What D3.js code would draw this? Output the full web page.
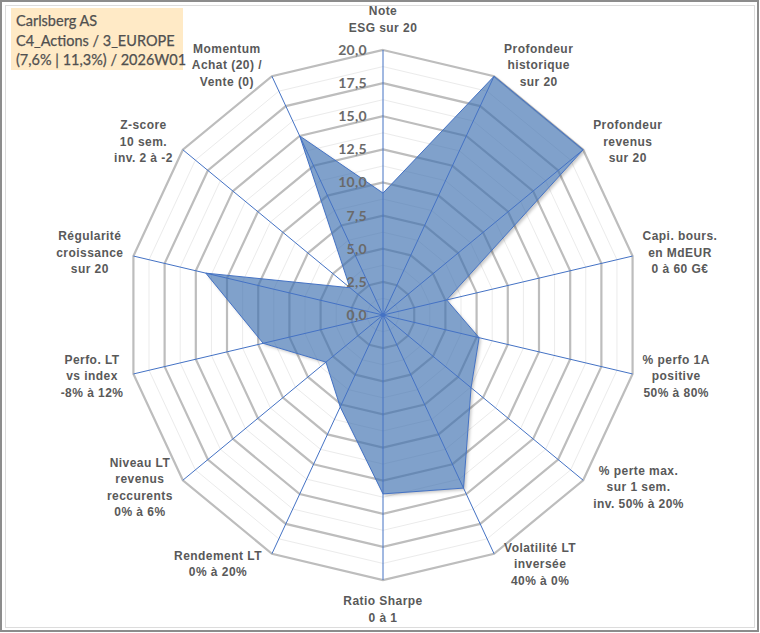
<!DOCTYPE html>
<html>
<head>
<meta charset="utf-8">
<script src="https://cdn.jsdelivr.net/npm/d3@7"></script>
<style>
  html, body { margin: 0; padding: 0; background: #fff; }
  svg { display: block; }
</style>
</head>
<body>
<div id="canvas"></div>
<script>
'use strict';

/* Radar data: one value per axis, on a 0..20 scale. */
const categories = [
  ['Note', 'ESG sur 20'],
  ['Profondeur', 'historique', 'sur 20'],
  ['Profondeur', 'revenus', 'sur 20'],
  ['Capi. bours.', 'en MdEUR', '0 à 60 G€'],
  ['% perfo 1A', 'positive', '50% à 80%'],
  ['% perte max.', 'sur 1 sem.', 'inv. 50% à 20%'],
  ['Volatilité LT', 'inversée', '40% à 0%'],
  ['Ratio Sharpe', '0 à 1'],
  ['Rendement LT', '0% à 20%'],
  ['Niveau LT', 'revenus', 'reccurents', '0% à 6%'],
  ['Perfo. LT', 'vs index', '-8% à 12%'],
  ['Régularité', 'croissance', 'sur 20'],
  ['Z-score', '10 sem.', 'inv. 2 à -2'],
  ['Momentum', 'Achat (20) /', 'Vente (0)'],
];
const values = [9.2, 20, 20, 5.1, 7.7, 8.8, 14.5, 13.5, 7.7, 5.7, 9.6, 14.2, 3.3, 15.0];
const majorTicks = [0, 2.5, 5, 7.5, 10, 12.5, 15, 17.5, 20];
const minorTicks = [1.25, 3.75, 6.25, 8.75, 11.25, 13.75, 16.25, 18.75];
const titleLines = ['Carlsberg AS', 'C4_Actions / 3_EUROPE', '(7,6% | 11,3%) / 2026W01'];

const width = 760;
const height = 633;
const center = {x: 383, y: 315};

const svg = d3.select('#canvas').append('svg')
    .attr('width', width)
    .attr('height', height);

/* The plot area is slightly wider than tall in the source, hence two scales. */
const rx = d3.scaleLinear().domain([0, 20]).range([0, 256]);
const ry = d3.scaleLinear().domain([0, 20]).range([0, 265]);
const angle = d3.scaleLinear().domain([0, categories.length]).range([0, 2 * Math.PI]);

const point = (i, v) => [
  center.x + rx(v) * Math.sin(angle(i)),
  center.y - ry(v) * Math.cos(angle(i)),
];
const ring = (v) => categories.map((c, i) => point(i, v));
const line = d3.line().curve(d3.curveLinearClosed);
const seriesPath = line(values.map((v, i) => point(i, v)));

// frame
svg.append('rect')
    .attr('x', 1).attr('y', 1)
    .attr('width', width - 3).attr('height', height - 3)
    .attr('fill', '#fff')
    .attr('stroke', '#8c8c8c')
    .attr('stroke-width', 2);
svg.append('rect')
    .attr('x', 5.5).attr('y', 5.5)
    .attr('width', width - 11).attr('height', height - 11)
    .attr('fill', 'none')
    .attr('stroke', '#dcdcdc');

/* The shadow must stay outside the translucent fill, so mask the polygon out. */
const defs = svg.append('defs');
defs.append('filter')
    .attr('id', 'blur')
    .attr('x', '-10%').attr('y', '-10%')
    .attr('width', '120%').attr('height', '120%')
    .append('feGaussianBlur')
    .attr('stdDeviation', 1.6);
const mask = defs.append('mask').attr('id', 'outside');
mask.append('rect')
    .attr('width', width).attr('height', height)
    .attr('fill', '#fff');
mask.append('path')
    .attr('d', seriesPath)
    .attr('fill', '#000');

// grid
const grid = svg.append('g').attr('class', 'grid');
grid.selectAll('path.minor')
    .data(minorTicks)
    .join('path')
    .attr('class', 'minor')
    .attr('d', (d) => line(ring(d)))
    .attr('fill', 'none')
    .attr('stroke', '#ebebeb')
    .attr('stroke-width', 1);
grid.selectAll('path.major')
    .data(majorTicks.filter((d) => d > 0))
    .join('path')
    .attr('class', 'major')
    .attr('d', (d) => line(ring(d)))
    .attr('fill', 'none')
    .attr('stroke', '#bdbdbd')
    .attr('stroke-width', 2.2);

// series
svg.append('g')
    .attr('mask', 'url(#outside)')
    .append('path')
    .attr('d', seriesPath)
    .attr('transform', 'translate(2, 2)')
    .attr('fill', '#000')
    .attr('fill-opacity', 0.22)
    .attr('filter', 'url(#blur)');
svg.append('path')
    .attr('d', seriesPath)
    .attr('fill', 'rgb(62,112,176)')
    .attr('fill-opacity', 0.66)
    .attr('stroke', '#4472c4')
    .attr('stroke-width', 1);

// spokes
svg.append('g').selectAll('line')
    .data(categories)
    .join('line')
    .attr('x1', center.x).attr('y1', center.y)
    .attr('x2', (d, i) => point(i, 20)[0])
    .attr('y2', (d, i) => point(i, 20)[1])
    .attr('stroke', '#4472c4')
    .attr('stroke-width', 1);
svg.append('circle')
    .attr('cx', center.x).attr('cy', center.y).attr('r', 2)
    .attr('fill', '#4472c4');

// value ticks along the first spoke
svg.append('g').selectAll('text')
    .data(majorTicks)
    .join('text')
    .attr('x', center.x - 16)
    .attr('y', (d) => point(0, d)[1])
    .attr('dy', '0.35em')
    .attr('text-anchor', 'end')
    .attr('font-family', 'Lato, "Open Sans", sans-serif')
    .attr('font-size', 14)
    .attr('font-weight', 'bold')
    .attr('letter-spacing', 0.3)
    .attr('fill', '#6a6a6a')
    .text((d) => d3.format('.1f')(d).replace('.', ','));

// category labels, pushed outward from each spoke end
const lineHeight = 16.5;
const labels = svg.append('g').selectAll('text')
    .data(categories)
    .join('text')
    .attr('text-anchor', 'middle')
    .attr('font-family', '"Liberation Sans", Arial, sans-serif')
    .attr('font-size', 12)
    .attr('font-weight', 'bold')
    .attr('letter-spacing', 0.45)
    .attr('fill', '#595959');
labels.each(function(d, i) {
  const text = d3.select(this);
  d.forEach((s, j) => {
    text.append('tspan')
        .attr('x', 0)
        .attr('dy', j === 0 ? 0 : lineHeight)
        .text(s);
  });
  const w = d3.max(text.selectAll('tspan').nodes(), (n) => n.getComputedTextLength());
  const h = d.length * lineHeight;
  const a = angle(i);
  const [ex, ey] = point(i, 20);
  let cx;
  let cy;
  if (Math.abs(Math.sin(a)) < 0.1) {
    cx = ex;
    cy = ey - Math.sign(Math.cos(a)) * (13.5 + h / 2);
  } else {
    cx = ex + Math.sign(Math.sin(a)) * (10 + w / 2);
    cy = ey - Math.cos(a) * 12;
  }
  text.attr('transform', `translate(${cx}, ${cy - h / 2 + lineHeight * 0.72})`);
});

// title box
const title = svg.append('g').attr('transform', 'translate(11, 8)');
title.append('rect')
    .attr('width', 172).attr('height', 62)
    .attr('fill', '#ffeac6');
title.selectAll('text')
    .data(titleLines)
    .join('text')
    .attr('x', 5)
    .attr('y', (d, i) => 18 + i * 19.5)
    .attr('font-family', 'Lato, "Open Sans", sans-serif')
    .attr('font-size', 14.5)
    .attr('fill', '#505050')
    .attr('stroke', '#505050')
    .attr('stroke-width', 0.25)
    .text((d) => d);
</script>
</body>
</html>
